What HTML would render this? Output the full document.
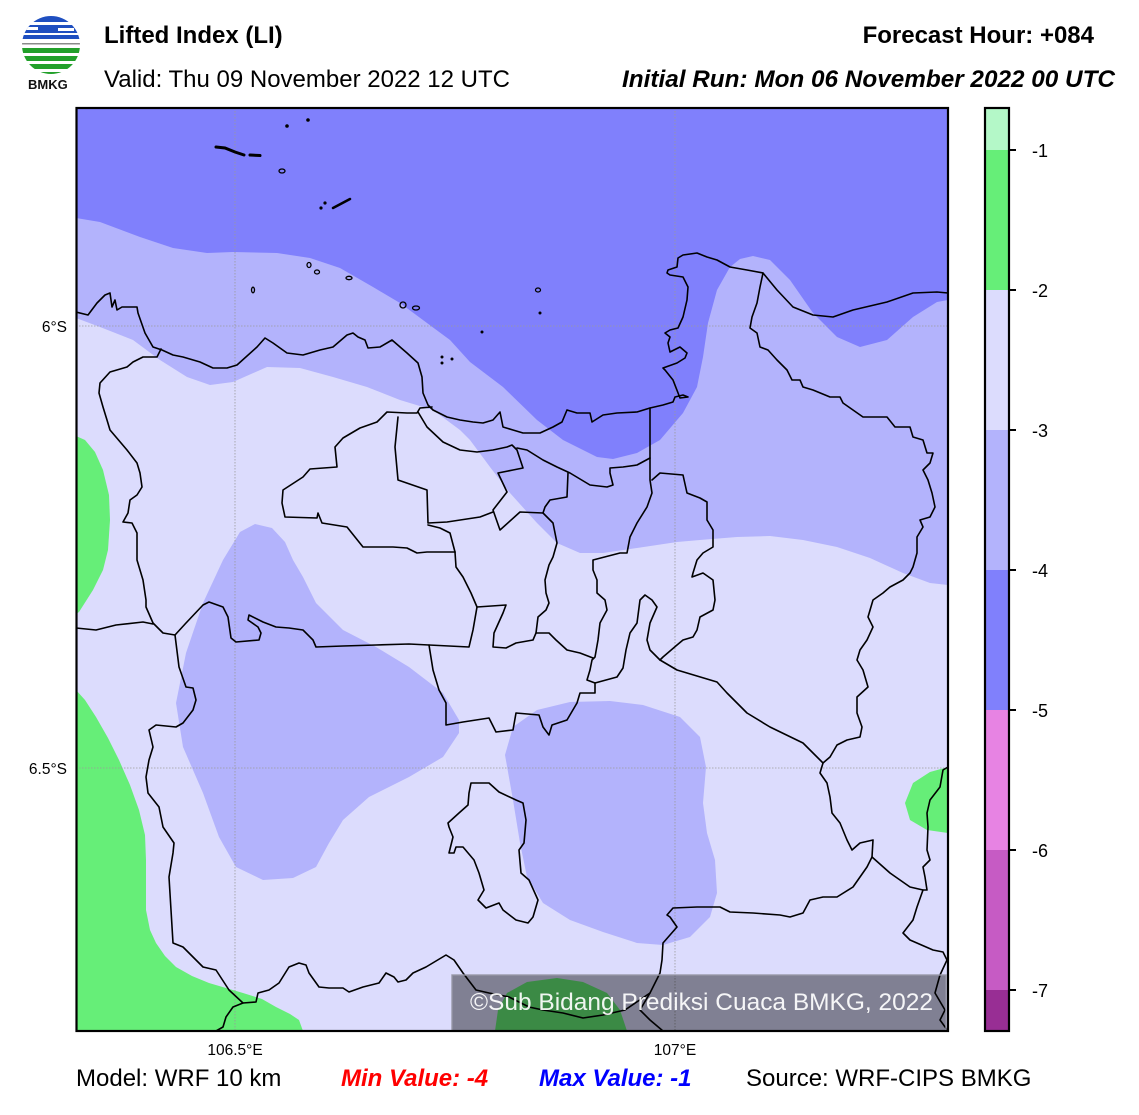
<!DOCTYPE html>
<html><head><meta charset="utf-8"><style>
html,body{margin:0;padding:0;background:#fff;}
svg{display:block;}
text{font-family:"Liberation Sans",Arial,sans-serif;}
</style></head><body>
<svg width="1139" height="1115" viewBox="0 0 1139 1115" xmlns="http://www.w3.org/2000/svg">
<defs>
<clipPath id="mapclip"><rect x="76" y="108" width="872" height="923"/></clipPath>
<clipPath id="logoclip"><circle cx="51" cy="45" r="29"/></clipPath>
</defs>
<rect width="1139" height="1115" fill="#fff"/>

<!-- Logo -->
<g clip-path="url(#logoclip)">
<rect x="20" y="14" width="62" height="8" fill="#1f4fc0"/>
<rect x="20" y="25" width="62" height="8" fill="#1f4fc0"/>
<rect x="26" y="27" width="12" height="3" fill="#fff"/>
<rect x="58" y="28" width="16" height="3" fill="#fff"/>
<rect x="20" y="35" width="62" height="4" fill="#1f4fc0"/>
<rect x="20" y="43" width="62" height="1.5" fill="#8a8a8a"/>
<rect x="20" y="48" width="62" height="5" fill="#22a02a"/>
<rect x="20" y="56" width="62" height="5" fill="#22a02a"/>
<rect x="20" y="64" width="62" height="5" fill="#22a02a"/>
<rect x="20" y="72" width="62" height="5" fill="#22a02a"/>
</g>
<text x="28" y="89" font-size="13" font-weight="bold" fill="#111">BMKG</text>

<!-- Titles -->
<text x="104" y="43" font-size="24" font-weight="bold" fill="#000">Lifted Index (LI)</text>
<text x="104" y="87" font-size="24" fill="#000">Valid: Thu 09 November 2022 12 UTC</text>
<text x="1094" y="43" font-size="24" font-weight="bold" fill="#000" text-anchor="end">Forecast Hour: +084</text>
<text x="1115" y="87" font-size="24" font-weight="bold" font-style="italic" fill="#000" text-anchor="end" textLength="493" lengthAdjust="spacingAndGlyphs">Initial Run: Mon 06 November 2022 00 UTC</text>

<!-- Map fills -->
<g clip-path="url(#mapclip)">
<rect x="76" y="108" width="872" height="923" fill="#dcdcfd"/>
<path fill="#b3b3fc" d="M76,108 H948 V585 L930,583 L903,573 L870,558 L837,547 L803,540 L770,536 L737,537 L700,540 L677,542 L637,548 L603,553 L580,553 L557,543 L537,523 L510,493 L490,467 L470,440 L460,430 L433,410 L400,400 L367,387 L333,377 L300,368 L267,367 L233,382 L210,385 L187,377 L160,360 L133,340 L100,327 L76,318 Z"/>
<path fill="#8080fc" d="M76,108 H948 V300 L937,302 L913,317 L887,340 L860,347 L837,337 L813,313 L790,280 L770,260 L753,256 L740,259 L730,267 L717,290 L708,323 L703,357 L697,387 L683,413 L660,440 L637,453 L613,459 L597,457 L563,440 L537,420 L503,387 L470,362 L450,340 L427,323 L400,303 L373,287 L340,268 L310,258 L277,253 L233,252 L207,253 L173,248 L140,237 L100,222 L76,218 Z"/>
<path fill="#b3b3fc" d="M223,560 L240,532 L255,524 L272,528 L285,542 L293,560 L303,577 L316,603 L343,630 L376,647 L409,667 L443,693 L459,720 L459,733 L443,757 L409,777 L369,797 L343,820 L329,843 L316,867 L293,878 L263,880 L236,867 L219,837 L203,793 L183,747 L176,703 L186,653 L203,603 Z"/>
<path fill="#b3b3fc" d="M505,755 L513,727 L537,710 L570,702 L610,701 L643,705 L680,717 L700,737 L706,767 L703,803 L707,833 L715,860 L717,893 L710,917 L690,937 L663,945 L637,943 L603,932 L570,920 L543,903 L527,877 L520,843 L513,800 Z"/>
<path fill="#66ee78" d="M76,436 L85,440 L95,452 L103,470 L109,495 L110,520 L108,550 L103,570 L93,590 L79,612 L76,614 Z"/>
<path fill="#66ee78" d="M76,690 L85,700 L96,717 L108,738 L119,760 L130,785 L139,810 L145,835 L146,860 L146,910 L150,930 L156,943 L165,956 L176,967 L192,976 L209,983 L243,993 L262,999 L276,1007 L290,1014 L299,1020 L303,1031 L76,1031 Z"/>
<path fill="#66ee78" d="M948,767 L930,772 L913,783 L905,803 L910,820 L927,830 L948,833 Z"/>
<path fill="#66ee78" d="M495,1031 L498,1010 L507,993 L527,982 L557,978 L583,982 L607,993 L620,1010 L627,1031 Z"/>

<g stroke="#9a9a9a" stroke-width="0.8" stroke-dasharray="1.5,1.5" fill="none">
<line x1="235" y1="108" x2="235" y2="1031"/>
<line x1="675" y1="108" x2="675" y2="1031"/>
<line x1="76" y1="326" x2="948" y2="326"/>
<line x1="76" y1="768" x2="948" y2="768"/>
</g>

<g stroke="#000" stroke-width="1.6" fill="none" stroke-linejoin="round" stroke-linecap="round">
<polyline points="76,312 88,315 97,303 105,295 110,293 112,307 115,300 117,310 122,307 137,307 138,313 145,333 153,347 162,350 173,355 183,357 200,362 213,368 227,368 237,365 257,347 265,338 273,343 287,353 303,355 320,350 333,347 347,335 353,333 358,337 365,340 368,348 380,347 392,340 407,353 418,363 422,377 423,393 428,405 433,410 447,417 460,420 473,422 483,423 493,420 500,412 503,427 513,430 523,433 540,433 553,427 562,422 567,410 577,413 590,413 592,422 603,415 617,413 637,412 650,408 663,405 673,402 675,397 683,395 688,397 680,398 673,380 665,370 663,368 677,363 685,358 687,353 680,347 670,352 668,343 670,337 665,333 670,330 678,328 683,317 687,300 688,287 683,277 670,275 667,273 668,270 677,267 678,258 683,255 697,253 707,257 717,260 730,267 747,270 763,273 777,290 793,307 813,315 833,317 853,310 887,302 913,293 937,292 948,293"/>
<polyline points="161,349 157,357 143,357 133,362 127,367 110,372 100,383 99,393 103,407 107,420 110,430 127,450 137,463 140,473 142,487 137,495 130,500 128,513 123,522 132,523 137,533 137,560 143,580 146,600 146,607 153,623 163,633 175,635 179,667 186,687 193,688 196,700 193,710 183,723 176,727 156,725 149,730 153,747 149,760 146,777 148,793 159,807 163,827 174,843 173,853 169,877 171,910 173,943 183,947 203,967 216,970 229,990 243,1003 233,1007 226,1017 223,1027 216,1031"/>
<polyline points="76,628 96,630 116,625 143,622 153,624"/>
<polyline points="175,635 186,623 203,605 209,602 223,607 228,617 231,638 236,642 259,640 261,633 258,627 248,620 249,615 263,622 276,627 289,628 303,630 313,640 316,647 343,646 376,645 409,644 429,645 469,647 473,630 477,607 471,593 463,577 456,567 455,552"/>
<polyline points="429,645 433,670 439,690 446,703 446,725 463,722 489,718 496,732 513,730 516,713 539,715 543,727 549,735 552,725 567,720 577,703 580,693 595,693 595,683 587,680 590,670 592,660 595,657 598,640 600,623 607,610 605,600 597,593 597,580 593,570 593,560 620,553 627,553 630,537 637,523 647,507 652,493 650,480 650,447 650,408"/>
<polyline points="652,480 660,473 683,475 687,493 700,498 707,502 707,520 713,530 713,547 703,553 697,560 693,573 692,577 703,573 713,580 715,600 713,610 700,617 697,630 693,637 683,640 677,645 663,657 660,660 677,670 717,682 727,693 747,713 770,727 803,743 823,763"/>
<polyline points="595,683 617,677 623,668 626,650 630,633 637,623 640,600 645,595 652,600 657,607 650,623 647,640 650,650 660,660"/>
<polyline points="763,273 760,287 757,303 752,317 750,328 757,333 760,347 768,350 777,360 787,370 792,380 800,380 803,387 813,390 830,397 840,397 843,403 863,417 887,417 895,427 910,427 913,437 923,440 927,453 933,453 930,463 923,470 928,480 932,493 935,507 930,517 920,520 923,527 917,537 917,553 913,567 910,573 903,580 890,587 883,593 873,600 868,617 873,627 867,640 860,650 857,660 863,670 868,687 857,697 857,713 862,727 860,737 847,740 837,745 830,757 823,763 820,773 827,783 830,797 832,813 840,823 847,840 852,850 860,843 873,840 872,857 867,867 853,887 837,897 823,897 810,900 803,913 790,917 780,915 753,913 730,912 720,907 697,907 673,908 667,915 670,917 677,927 663,943 662,960 660,973 650,993 640,1010 650,1020 663,1031"/>
<polyline points="872,857 890,873 910,887 923,890 917,907 913,920 903,933 910,940 933,950 943,952 947,960 940,975 935,993 945,1010 940,1020 948,1031"/>
<polyline points="948,767 943,770 940,787 930,800 927,813 928,827 927,850 930,860 923,867 925,877 927,890 923,890"/>
<polyline points="243,1003 256,1002 258,993 269,990 279,983 289,967 299,963 306,965 309,973 319,987 329,988 343,988 349,992 363,987 379,983 386,973 394,977 398,982 406,980 413,973 426,967 446,955 454,960 463,973 476,990 489,993 509,997 529,1007 543,1010 563,1013 583,1018 603,1015 625,1010 650,993"/>
<polyline points="432,407 420,408 417,413 407,413 387,412 377,422 360,428 343,438 335,447 337,467 310,469 303,477 283,490 282,503 285,517 317,518 318,513 322,523 347,527 363,547 393,547 407,548 417,553 427,552 455,552"/>
<polyline points="418,412 427,427 443,442 460,450 477,452 493,450 507,447 512,445 517,450 523,468 513,470 498,473 507,492 493,510 500,530 520,512 543,513 553,523 557,543 553,557 549,565 545,580 546,593 549,603 546,610 538,617 536,633 533,640 516,643 506,648 493,647 494,633 503,613 506,605 477,607"/>
<polyline points="536,633 549,633 556,640 567,650 580,653 593,658"/>
<polyline points="398,417 395,447 398,480 427,490 428,523 447,522 480,517 493,512"/>
<polyline points="428,525 440,528 450,533 455,552"/>
<polyline points="517,448 527,450 543,460 557,467 570,473 590,485 607,487 613,485 610,473 610,468 623,467 637,465 650,458"/>
<polyline points="568,473 567,497 550,500 545,507 543,513"/>
<polygon points="471,783 489,783 499,792 516,800 523,803 526,820 524,843 519,850 521,873 529,880 538,900 533,917 528,923 516,920 503,910 499,903 486,908 478,900 484,890 479,873 474,860 463,847 456,847 454,853 449,853 453,837 449,827 448,823 459,813 468,805 469,793"/>
</g>
<g stroke="#000" fill="none" stroke-linecap="round">
<polyline points="216,147 225,148 235,152 244,155" stroke-width="3"/>
<line x1="250" y1="155" x2="260" y2="155.5" stroke-width="3"/>
<line x1="333" y1="208" x2="350" y2="199" stroke-width="2.5"/>
<ellipse cx="282" cy="171" rx="3" ry="2" stroke-width="1.3"/>
<ellipse cx="309" cy="265" rx="2" ry="2.5" stroke-width="1.3"/>
<ellipse cx="317" cy="272" rx="2.5" ry="2" stroke-width="1.3"/>
<ellipse cx="349" cy="278" rx="3" ry="1.7" stroke-width="1.3"/>
<ellipse cx="253" cy="290" rx="1.5" ry="2.8" stroke-width="1.3"/>
<ellipse cx="403" cy="305" rx="3" ry="3" stroke-width="1.3"/>
<ellipse cx="416" cy="308" rx="3.5" ry="2" stroke-width="1.3"/>
<ellipse cx="538" cy="290" rx="2.5" ry="2" stroke-width="1.3"/>
</g>
<g fill="#000">
<circle cx="287" cy="126" r="1.8"/>
<circle cx="308" cy="120" r="1.8"/>
<circle cx="321" cy="208" r="1.6"/>
<circle cx="325" cy="203" r="1.6"/>
<circle cx="442" cy="357" r="1.5"/>
<circle cx="442" cy="363" r="1.5"/>
<circle cx="452" cy="359" r="1.5"/>
<circle cx="540" cy="313" r="1.5"/>
<circle cx="482" cy="332" r="1.5"/>
</g>

<rect x="452" y="975" width="494" height="58" fill="rgba(0,0,0,0.42)" stroke="rgba(150,150,165,0.9)" stroke-width="1.5"/>
<text x="470" y="1010" font-size="24" fill="rgba(255,255,255,0.92)" textLength="463" lengthAdjust="spacingAndGlyphs">©Sub Bidang Prediksi Cuaca BMKG, 2022</text>
</g>

<rect x="76.5" y="108" width="871.5" height="923" fill="none" stroke="#000" stroke-width="2.2"/>

<text x="67" y="332" font-size="15.5" text-anchor="end" fill="#000">6°S</text>
<text x="67" y="774" font-size="15.5" text-anchor="end" fill="#000">6.5°S</text>
<text x="235" y="1055" font-size="15.5" text-anchor="middle" fill="#000">106.5°E</text>
<text x="675" y="1055" font-size="15.5" text-anchor="middle" fill="#000">107°E</text>

<rect x="985" y="108" width="24" height="42" fill="#b4f8c8"/>
<rect x="985" y="150" width="24" height="140" fill="#66ee78"/>
<rect x="985" y="290" width="24" height="140" fill="#dcdcfd"/>
<rect x="985" y="430" width="24" height="140" fill="#b3b3fc"/>
<rect x="985" y="570" width="24" height="140" fill="#8080fc"/>
<rect x="985" y="710" width="24" height="140" fill="#e783e3"/>
<rect x="985" y="850" width="24" height="140" fill="#c65bc4"/>
<rect x="985" y="990" width="24" height="41" fill="#982e94"/>
<rect x="985" y="108" width="24" height="923" fill="none" stroke="#000" stroke-width="2.2"/>
<g stroke="#000" stroke-width="2">
<line x1="1009" y1="150" x2="1016" y2="150"/>
<line x1="1009" y1="290" x2="1016" y2="290"/>
<line x1="1009" y1="430" x2="1016" y2="430"/>
<line x1="1009" y1="570" x2="1016" y2="570"/>
<line x1="1009" y1="710" x2="1016" y2="710"/>
<line x1="1009" y1="850" x2="1016" y2="850"/>
<line x1="1009" y1="990" x2="1016" y2="990"/>
</g>
<g font-size="18" fill="#000">
<text x="1032" y="157">-1</text>
<text x="1032" y="297">-2</text>
<text x="1032" y="437">-3</text>
<text x="1032" y="577">-4</text>
<text x="1032" y="717">-5</text>
<text x="1032" y="857">-6</text>
<text x="1032" y="997">-7</text>
</g>

<text x="76" y="1086" font-size="24" fill="#000">Model: WRF 10 km</text>
<text x="341" y="1086" font-size="24" font-weight="bold" font-style="italic" fill="#ff0000">Min Value: -4</text>
<text x="539" y="1086" font-size="24" font-weight="bold" font-style="italic" fill="#0000ff">Max Value: -1</text>
<text x="746" y="1086" font-size="24" fill="#000">Source: WRF-CIPS BMKG</text>
</svg>
</body></html>
